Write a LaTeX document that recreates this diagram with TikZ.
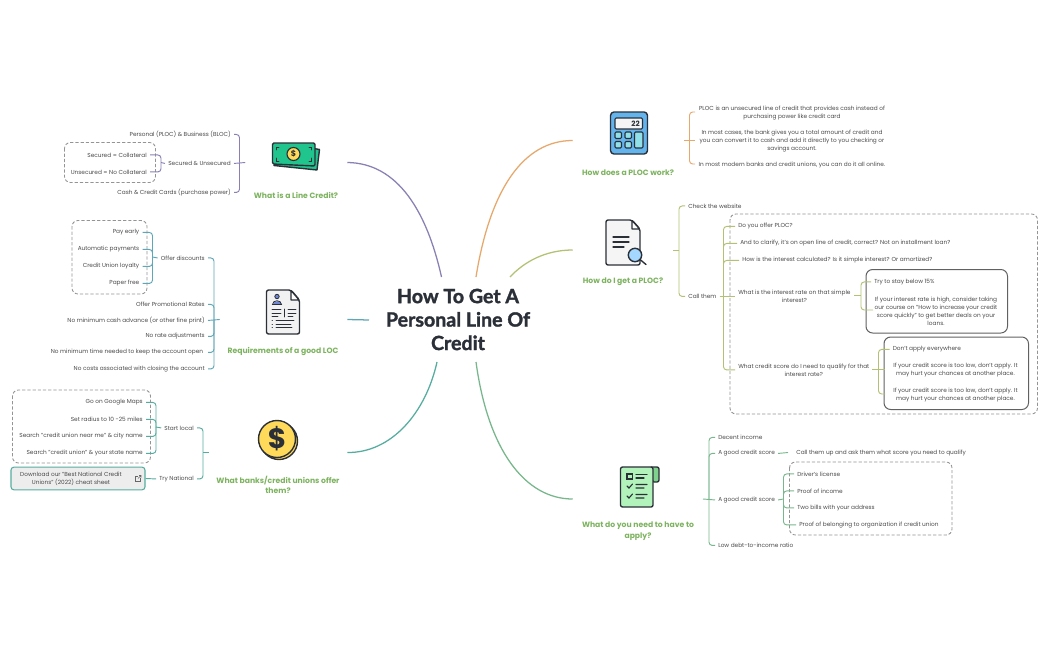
\documentclass[tikz,border=0pt]{standalone}
\usepackage{fontspec}
\setmainfont{Poppins}
\newfontfamily\titlefont[BoldFeatures={FakeBold=1.6}]{Lato}
\usetikzlibrary{calc}
\definecolor{cpurple}{HTML}{8A80B4}
\definecolor{corange}{HTML}{E6A86C}
\definecolor{colive}{HTML}{B2C272}
\definecolor{cblue}{HTML}{5FA6B6}
\definecolor{cteal}{HTML}{55AD9F}
\definecolor{cgreen}{HTML}{78B78C}
\definecolor{clabel}{HTML}{7DB35F}
\definecolor{ctext}{HTML}{4A4A4A}
\definecolor{cdark}{HTML}{2B3038}
\definecolor{HTMLgreen}{HTML}{20C58E}
\definecolor{HTMLyellow}{HTML}{FFD95A}
\definecolor{HTMLblue}{HTML}{6F86D6}
\definecolor{HTMLsky}{HTML}{63B3ED}
\definecolor{HTMLcyan}{HTML}{90E0EA}
\definecolor{HTMLlens}{HTML}{A5D8FF}
\definecolor{HTMLtab}{HTML}{7FD18E}
\definecolor{HTMLmint}{HTML}{B2F2BB}
\tikzset{
  x=.75pt,y=-.75pt,
  txt/.style={inner sep=2.25pt,text=ctext,font=\fontsize{4.35}{6}\selectfont,align=center,yshift=-.7pt},
  txtl/.style={txt,anchor=west},
  txtr/.style={txt,anchor=east},
  lab/.style={inner sep=0pt,text=clabel,font=\fontsize{5.75}{7.8}\selectfont\bfseries,align=center},
  hub/.style={inner sep=0pt,minimum width=#1*.75pt,minimum height=1pt},
  wire/.style={draw=#1,line width=.7pt,rounded corners=2.4pt},
  main/.style={draw=#1,line width=.95pt},
  dashbox/.style={draw=black!42,line width=.65pt,dash pattern=on 2.4pt off 1.5pt,rounded corners=4.5pt},
  solidbox/.style={draw=black!62,line width=.75pt,rounded corners=5pt},
  ic/.style={draw=cdark,line width=1.05pt,line join=round,line cap=round},
  icl/.style={draw=cdark,line width=.8pt,line cap=round},
}
\begin{document}
\begin{tikzpicture}
\useasboundingbox (0,0) rectangle (1050,650);
\fill[white] (0,0) rectangle (1050,650);

% frames
\draw[dashbox] (64.5,142.5) rectangle (155.5,182.5);
\draw[dashbox] (72,220.5) rectangle (147,294);
\draw[dashbox] (12.5,390) rectangle (150.5,463);
\draw[dashbox] (730,214) rectangle (1037.5,414);
\draw[dashbox] (789.5,462) rectangle (952,535);
\draw[solidbox] (866,269.5) rectangle (1007.5,333);
\draw[solidbox] (884,337) rectangle (1028.5,409.5);

% root and invisible hubs
\node[inner sep=0pt,font=\titlefont\fontsize{14.7}{17.6}\selectfont\bfseries,text=cdark,align=center] (root) at (458,319.5) {How To Get A\\Personal Line Of\\Credit};
\coordinate (rA) at (441.5,277);
\coordinate (rB) at (476,277);
\coordinate (rC) at (510,277);
\coordinate (rD) at (369,320);
\coordinate (rE) at (437,362);
\coordinate (rF) at (476,362);
\node[hub=101.5] (h1) at (296.25,162.5) {};
\node[hub=127] (h2) at (283.5,319.5) {};
\node[hub=138] (h3) at (278,452.5) {};
\node[hub=0] (h4) at (573,140.5) {};
\node[hub=0] (h5) at (573,250) {};
\node[hub=0] (h6) at (573,499) {};
\coordinate (h4e) at (684,140.5);
\coordinate (h5e) at (673,250);
\coordinate (h6e) at (703,499);

\draw[main=cpurple] (h1.east) .. controls (398,163) and (427,212) .. (rA);
\draw[main=cblue] (h2.east) -- (rD);
\draw[main=cteal] (h3.east) .. controls (392,453) and (426,412) .. (rE);
\draw[main=corange] (h4) .. controls (523,140.5) and (490,190) .. (rB);
\draw[main=colive] (h5) .. controls (545,250) and (524,262) .. (rC);
\draw[main=cgreen] (h6) .. controls (525,499) and (488,450) .. (rF);

% labels
\node[lab] (lb1) at (296,195) {What is a Line Credit?};
\node[lab] (lb2) at (283,351.5) {Requirements of a good LOC};
\node[lab] (lb3) at (278,485) {What banks/credit unions offer\\them?};
\node[lab] (lb4) at (628,172.5) {How does a PLOC work?};
\node[lab] (lb5) at (623,282) {How do I get a PLOC?};
\node[lab] (lb6) at (638,531) {What do you need to have to\\apply?};

% ---- Line credit
\node[txtr] (a1) at (234,133.5) {Personal (PLOC) \& Business (BLOC)};
\node[txtr] (a2) at (234,162.5) {Secured \& Unsecured};
\node[txtr] (a3) at (234,191.5) {Cash \& Credit Cards (purchase power)};
\node[txtr] (a21) at (150,154) {Secured = Collateral};
\node[txtr] (a22) at (150,171) {Unsecured = No Collateral};
\coordinate (ba) at (239.5,162.5);
\coordinate (bb) at (161,162.5);
\foreach \c in {a1,a3} \draw[wire=cpurple] (\c.east) -| (ba);
\draw[wire=cpurple] (a2.east) -- (h1.west);
\foreach \c in {a21,a22} \draw[wire=cpurple] (\c.east) -| (bb);
\draw[wire=cpurple] (bb) -- (a2.west);

% ---- Requirements
\node[txtr] (b1) at (208,257) {Offer discounts};
\node[txtr] (b2) at (208,303.5) {Offer Promotional Rates};
\node[txtr] (b3) at (208,319.5) {No minimum cash advance (or other fine print)};
\node[txtr] (b4) at (208,335.5) {No rate adjustments};
\node[txtr] (b5) at (208,351.5) {No minimum time needed to keep the account open\ };
\node[txtr] (b6) at (208,368) {No costs associated with closing the account};
\node[txtr] (b11) at (142.5,231.5) {Pay early};
\node[txtr] (b12) at (142.5,248.5) {Automatic payments};
\node[txtr] (b13) at (142.5,265.5) {Credit Union loyalty};
\node[txtr] (b14) at (142.5,282.5) {Paper free};
\coordinate (bc) at (214,319.5);
\coordinate (bd) at (152.5,257);
\foreach \c in {b1,b2,b4,b5,b6} \draw[wire=cblue] (\c.east) -| (bc);
\draw[wire=cblue] (b3.east) -- (h2.west);
\foreach \c in {b11,b12,b13,b14} \draw[wire=cblue] (\c.east) -| (bd);
\draw[wire=cblue] (bd) -- (b1.west);

% ---- Banks
\node[txtr] (c1) at (197,427) {Start local};
\node[txtr] (c2) at (197,478) {Try National};
\node[txtr] (c11) at (146,401.5) {Go on Google Maps};
\node[txtr] (c12) at (146,418.5) {Set radius to 10 -25 miles};
\node[txtr] (c13) at (146,435.5) {Search "credit union near me" \& city name};
\node[txtr] (c14) at (146,452.5) {Search "credit union" \& your state name};
\node[draw=cteal,fill=black!7,line width=.8pt,rounded corners=2.2pt,minimum width=100.5pt,minimum height=17pt,inner sep=0pt] (c21) at (78,478.5) {};
\node[txt,inner sep=0pt] (c21t) at (71,478) {Download our "Best National Credit\\Unions" (2022) cheat sheet};
\coordinate (be) at (203,452.5);
\coordinate (bf) at (156,427);
\foreach \c in {c1,c2} \draw[wire=cteal] (\c.east) -| (be);
\draw[wire=cteal] (be) -- (h3.west);
\foreach \c in {c11,c12,c13,c14} \draw[wire=cteal] (\c.east) -| (bf);
\draw[wire=cteal] (bf) -- (c1.west);
\draw[wire=cteal] (c21.east) -- (c2.west);
% external link glyph
\draw[black!60,line width=.4pt] (140.5,477.5) -- (140.5,481) -- (135.5,481) -- (135.5,476) -- (138,476);
\draw[black!60,line width=.4pt] (138,478.5) -- (141,475.5) (139,475.5) -- (141,475.5) -- (141,477.5);

% ---- PLOC work
\node[txt] (d1) at (792,112) {PLOC is an unsecured line of credit that provides cash instead of\\purchasing power like credit card};
\node[txt] (d2) at (792,140) {In most cases, the bank gives you a total amount of credit and\\you can convert it to cash and add it directly to you checking or\\savings account.};
\node[txt] (d3) at (792,164) {In most modern banks and credit unions, you can do it all online.};
\coordinate (bg) at (689.5,140.5);
\coordinate (d1w) at (695,112);
\coordinate (d3w) at (695,164);
\coordinate (d2w) at (695,140.5);
\draw[wire=corange] (d1w) -| (bg);
\draw[wire=corange] (d3w) -| (bg);
\draw[wire=corange] (h4e) -- (d2w);

% ---- How do I get
\node[txtl] (e1) at (685,205) {Check the website};
\node[txtl] (e2) at (685,295.5) {Call them};
\node[txtl] (e21) at (735,225.5) {Do you offer PLOC?};
\node[txtl] (e22) at (737,242.5) {And to clarify, it's on open line of credit, correct? Not on installment loan?};
\node[txtl] (e23) at (739,259.5) {How is the interest calculated? Is it simple interest? Or amortized?};
\node[txtl] (e24) at (735,295.5) {What is the interest rate on that simple\\interest?};
\node[txtl] (e25) at (735,369) {What credit score do I need to qualify for that\\interest rate?};
\node[txtl] (e241) at (871,281) {Try to stay below 15\%};
\node[txt] (e242) at (936,310) {If your interest rate is high, consider taking\\our course on "How to increase your credit\\score quickly" to get better deals on your\\loans.};
\node[txtl] (e251) at (889.5,348.5) {Don't apply everywhere};
\node[txt] (e252) at (955.5,369) {If your credit score is too low, don't apply. It\\may hurt your chances at another place.};
\node[txt] (e253) at (955.5,394) {If your credit score is too low, don't apply. It\\may hurt your chances at another place.};
\coordinate (bh) at (679,250);
\coordinate (bi) at (723.5,295.5);
\coordinate (bj) at (861,295.5);
\coordinate (bk) at (878.5,369);
\coordinate (e242w) at (873,310);
\coordinate (e252w) at (885,369);
\coordinate (e253w) at (885,394);
\coordinate (e24e) at (854,295.5);
\coordinate (e25e) at (872,369);
\foreach \c in {e1,e2} \draw[wire=colive] (\c.west) -| (bh);
\draw[wire=colive] (h5e) -- (bh);
\foreach \c in {e21,e22,e23,e25} \draw[wire=colive] (\c.west) -| (bi);
\draw[wire=colive] (e2.east) -- (e24.west);
\draw[wire=colive] (e241.west) -| (bj);
\draw[wire=colive] (e242w) -| (bj);
\draw[wire=colive] (e24e) -- (bj);
\draw[wire=colive] (e251.west) -| (bk);
\draw[wire=colive] (e253w) -| (bk);
\draw[wire=colive] (e25e) -- (e252w);

% ---- Apply
\node[txtl] (f1) at (715,436.5) {Decent income};
\node[txtl] (f2) at (715,452.5) {A good credit score};
\node[txtl] (f3) at (715,499) {A good credit score};
\node[txtl] (f4) at (715,544.5) {Low debt-to-income ratio};
\node[txtl] (f21) at (793,452.5) {Call them up and ask them what score you need to qualify};
\node[txtl] (f31) at (794,473) {Driver's license};
\node[txtl] (f32) at (794,490) {Proof of income};
\node[txtl] (f33) at (794,507) {Two bills with your address};
\node[txtl] (f34) at (796,524) {Proof of belonging to organization if credit union};
\coordinate (bl) at (709,499);
\coordinate (bm) at (783.5,499);
\coordinate (f21s) at (788,452.5);
\foreach \c in {f1,f2,f4} \draw[wire=cgreen] (\c.west) -| (bl);
\draw[wire=cgreen] (h6e) -- (f3.west);
\draw[wire=cgreen] (f2.east) -- (f21s);
\foreach \c in {f31,f32,f33,f34} \draw[wire=cgreen] (\c.west) -| (bm);
\draw[wire=cgreen] (f3.east) -- (bm);

% ---- icons
% money
\begin{scope}
\filldraw[ic,fill=HTMLgreen] (305,147) -- (319.5,149.5) -- (317,170) -- (274,165.5) -- cycle;
\filldraw[ic,fill=HTMLgreen,rounded corners=1pt] (272.5,143) -- (315,143) -- (315,166) -- (272.5,164) -- cycle;
\filldraw[draw=cdark,line width=.85pt,fill=HTMLyellow] (293.5,154) circle[radius=6.5];
\node[inner sep=0pt,font=\fontsize{6}{6}\selectfont\bfseries,text=cdark] (moneyS) at (293.5,154) {\$};
\draw[icl,line width=.7pt] (276.5,150) |- (279,147) (311.5,150) |- (309,147) (276.5,158) |- (279,161) (311.5,158) |- (309,161);
\end{scope}
% document person
\filldraw[ic,fill=black!5,rounded corners=1.5pt] (266.5,290) -- (291,290) -- (299.5,300) -- (299.5,334) -- (266.5,334) -- cycle;
\filldraw[ic,fill=white,line width=.85pt] (291,290.5) -- (291,300) -- (299,300) -- cycle;
\filldraw[draw=cdark,line width=.6pt,fill=HTMLblue] (277,296.5) circle[radius=2.2];
\filldraw[draw=cdark,line width=.6pt,fill=HTMLblue] (272.5,304.5) .. controls (272.5,299.5) and (281.5,299.5) .. (281.5,304.5) -- cycle;
\draw[icl,line width=.65pt] (272,309.5) -- (281,309.5) (272,313) -- (281,313) (272,316.5) -- (278,316.5);
\draw[icl,line width=.65pt] (288,309.5) -- (296,309.5) (288,313) -- (296,313) (288,316.5) -- (293,316.5) (284.5,309) -- (284.5,317);
\draw[icl,line width=.65pt] (272,320.5) -- (272.5,320.5) (272,324) -- (272.5,324) (272,327.5) -- (272.5,327.5);
\draw[icl,line width=.65pt] (276,320.5) -- (294,320.5) (276,324) -- (291,324) (276,327.5) -- (292,327.5);
% coin
\filldraw[ic,fill=HTMLyellow] (279,441) circle[radius=18.5];
\filldraw[ic,fill=HTMLyellow] (277,439) circle[radius=18.5];
\node[inner sep=0pt,font=\fontsize{21}{21}\selectfont\bfseries,text=cdark] (coinS) at (277,439) {\$};
% calculator
\filldraw[ic,fill=HTMLsky,rounded corners=2.6pt] (610.5,112) rectangle (647.5,154);
\filldraw[ic,fill=black!4,line width=.8pt,rounded corners=.8pt] (615,118) rectangle (642.5,129);
\node[inner sep=0pt,font=\fontsize{5.5}{6}\selectfont\bfseries,text=cdark] (calcT) at (635.5,123.5) {22};
\foreach \xa/\ya in {615/132,625/132,615/141.5,625/141.5}
  \filldraw[ic,fill=HTMLcyan,line width=.8pt,rounded corners=.8pt] (\xa,\ya) rectangle ++(6.5,6.5);
\filldraw[ic,fill=HTMLcyan,line width=.8pt,rounded corners=.8pt] (634.5,132) rectangle (643,148);
% search document
\filldraw[ic,fill=black!4,rounded corners=1.5pt] (606,220) -- (632,220) -- (640,229) -- (640,265) -- (606,265) -- cycle;
\filldraw[ic,fill=white,line width=.85pt] (632,220.5) -- (632,229) -- (639.5,229) -- cycle;
\draw[icl] (613,237) -- (629,237) (613,242) -- (629,242) (613,247) -- (624,247);
\draw[ic] (640,259.5) -- (646,264.5);
\filldraw[ic,fill=HTMLlens] (635,255) circle[radius=6.7];
% checklist
\filldraw[ic,fill=HTMLtab,rounded corners=1.5pt] (650,467) -- (659,467) -- (659,482) -- (652,482) -- cycle;
\filldraw[ic,fill=HTMLmint,rounded corners=1.5pt] (620.5,467) -- (653,467) -- (653,507) -- (620.5,507) -- cycle;
\draw[icl,line width=.8pt] (627,474) rectangle (632.5,479);
\draw[icl] (636,474.5) -- (647,474.5) (636,478) -- (644,478);
\draw[icl] (627,486) -- (629,488) -- (632.5,484) (636,484.5) -- (647,484.5) (636,488) -- (644,488);
\draw[icl] (627,496) -- (629,498) -- (632.5,494) (636,494.5) -- (647,494.5) (636,498) -- (644,498);
\end{tikzpicture}
\end{document}
